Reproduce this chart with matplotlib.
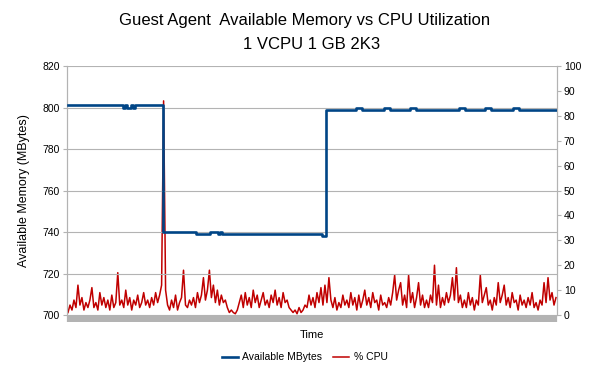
import numpy as np
import matplotlib.pyplot as plt

plt.rcParams['font.family'] = ['Liberation Sans', 'DejaVu Sans']

# % CPU samples (one value every ~2 px)
cpu = [
    1, 4, 2, 6, 3, 12, 4, 7, 2, 5, 3, 6, 11, 3, 5, 2, 9, 4, 7, 3,
    6, 2, 8, 3, 5, 17, 4, 6, 3, 10, 4, 7, 2, 6, 4, 8, 3, 5, 9, 4,
    6, 3, 7, 4, 9, 5, 8, 12, 86, 10, 4, 2, 6, 3, 8, 2, 5, 7, 18, 4,
    3, 6, 4, 7, 3, 9, 5, 8, 15, 6, 10, 18, 7, 12, 5, 10, 4, 8, 5, 6,
    3, 1, 2, 1, 0.5, 2, 5, 8, 3, 9, 4, 7, 3, 10, 5, 8, 3, 6, 9, 4,
    6, 3, 8, 5, 10, 4, 7, 3, 9, 5, 6, 3, 2, 1, 2, 0.5, 3, 1, 2, 4,
    3, 8, 4, 7, 3, 9, 5, 11, 4, 12, 5, 15, 6, 3, 7, 2, 5, 3, 8, 4,
    6, 3, 9, 4, 7, 2, 8, 3, 6, 10, 4, 7, 3, 9, 5, 6, 2, 8, 4, 5,
    3, 7, 4, 9, 16, 6, 10, 13, 4, 8, 3, 16, 5, 9, 3, 7, 13, 4, 8, 3,
    6, 3, 8, 5, 20, 4, 12, 3, 7, 4, 9, 5, 8, 15, 6, 19, 5, 8, 3, 6,
    3, 9, 4, 7, 2, 6, 4, 16, 5, 8, 11, 4, 6, 2, 7, 4, 13, 5, 8, 12,
    4, 7, 3, 9, 5, 6, 2, 8, 4, 6, 3, 7, 4, 9, 3, 5, 2, 6, 4, 13,
    5, 15, 6, 9, 4, 7,
]

# Available MBytes at the same samples
mem = (
    [801] * 28 + [800, 801, 800, 800, 801, 800] + [801] * 14
    + [740] * 17 + [739] * 7 + [740] * 4 + [739, 740]
    + [739] * 50 + [738, 738]
    + [799] * 15 + [800] * 3 + [799] * 11 + [800] * 3 + [799] * 10
    + [800] * 3 + [799] * 22 + [800] * 3 + [799] * 10 + [800] * 3
    + [799] * 11 + [800] * 3 + [799] * 22
)

x = np.arange(len(cpu))
mem = mem[:len(cpu)] + [799] * (len(cpu) - len(mem))

grid_c = '#b3b3b3'
fig = plt.figure(figsize=(6.09, 3.80), dpi=100)
ax = fig.add_axes([0.110, 0.171, 0.8046, 0.6553])
ax2 = ax.twinx()

# memory on left axis, cpu on right axis
l1, = ax.plot(x, mem, color='#004586', lw=1.9, zorder=3, drawstyle='steps-mid')
l2, = ax2.plot(x, cpu, color='#c00000', lw=1.1)
ax.set_zorder(ax2.get_zorder() + 1)
ax.patch.set_visible(False)

ax.set_xlim(-0.5, len(cpu) - 0.5)
ax.set_ylim(700, 820)
ax.set_yticks(np.arange(700, 821, 20))
ax2.set_ylim(0, 100)
ax2.set_yticks(np.arange(0, 101, 10))
ax.grid(axis='y', color=grid_c, lw=0.8)
ax.set_axisbelow(True)

# dense category ticks make the grey band under the plot
ax.set_xticks(x)
ax.tick_params(axis='x', length=5, width=1.6, color=grid_c, labelbottom=False)
ax.tick_params(axis='y', length=3, color=grid_c, labelsize=7.5, pad=2)
ax2.tick_params(axis='y', length=3, color=grid_c, labelsize=7.5, pad=2)

for a in (ax, ax2):
    a.spines['top'].set_visible(False)
    a.spines['bottom'].set_visible(False)
    a.spines['left'].set_color(grid_c)
    a.spines['right'].set_color(grid_c)

ax.set_ylabel('Available Memory (MBytes)', fontsize=9, labelpad=9)
ax.set_xlabel('Time', fontsize=8, labelpad=6)

fig.text(0.500, 0.945, 'Guest Agent  Available Memory vs CPU Utilization',
         ha='center', va='center', fontsize=12)
fig.text(0.512, 0.883, '1 VCPU 1 GB 2K3', ha='center', va='center', fontsize=12)

fig.legend([l1, l2], ['Available MBytes', '% CPU'], loc='center',
           bbox_to_anchor=(0.5, 0.06), ncol=2, frameon=False, fontsize=7.5,
           handlelength=1.6, handletextpad=0.4, columnspacing=1.0)

fig.savefig('out.png', dpi=100)
